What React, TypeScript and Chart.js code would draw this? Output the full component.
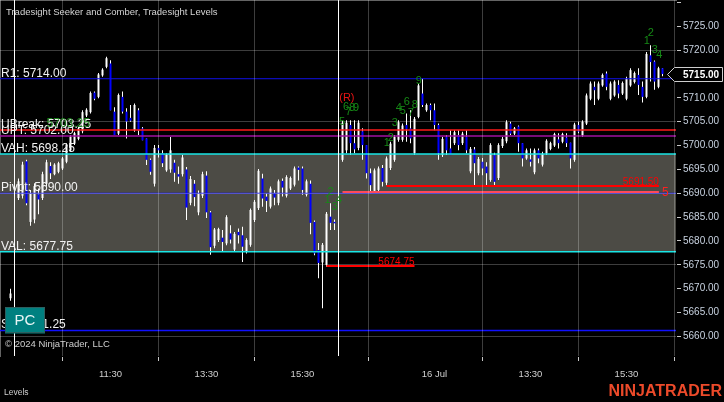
import { useEffect, useRef } from 'react';
import { Chart, registerables } from 'chart.js';

Chart.register(...registerables);

const FONT = '"Liberation Sans", Arial, sans-serif';

// ---- price bars: [open, high, low, close] ----
const prevBars: number[][] = [[5668, 5670, 5667.5, 5669]];

const day1Bars: number[][] = [
  [5689, 5693.1, 5688.6, 5692.5], [5689.5, 5696.6, 5688.9, 5696], [5696.7, 5697, 5687.5, 5687.9],
  [5684, 5690.7, 5683.2, 5690], [5684.5, 5692.1, 5683.7, 5691.5], [5689.8, 5691, 5685.6, 5688.7],
  [5689, 5694.5, 5688.6, 5694], [5692, 5697, 5691.4, 5696.5], [5695.7, 5696.5, 5693, 5694.2],
  [5694, 5696.3, 5693.8, 5696], [5694.5, 5696.6, 5694.2, 5696.3], [5695.2, 5697.6, 5694.9, 5697.3],
  [5696.6, 5700.5, 5696.3, 5700.2], [5699, 5702.2, 5698.7, 5701.9], [5700.4, 5702.9, 5700.1, 5702.6],
  [5701.4, 5703.9, 5701.1, 5703.6], [5703, 5707.4, 5702.6, 5707], [5706.3, 5707.8, 5706, 5707.5],
  [5707, 5711.3, 5706.7, 5711], [5711.1, 5711.3, 5709.5, 5709.8], [5710.2, 5715.2, 5709.9, 5714.9],
  [5714.7, 5716.2, 5714.4, 5715.9], [5716.5, 5718.6, 5716.2, 5718.3], [5717.2, 5717.9, 5707.4, 5707.4],
  [5707.1, 5708, 5702.2, 5702.2], [5702.5, 5710.9, 5702.2, 5710.6], [5710.2, 5711.3, 5706.7, 5707.1],
  [5707.1, 5707.8, 5701.5, 5705], [5705.8, 5708.5, 5705, 5705.2], [5703.2, 5708.8, 5702.9, 5708.5],
  [5707.4, 5707.8, 5702.2, 5703.2], [5703.6, 5703.9, 5701.1, 5701.1], [5701.5, 5701.5, 5695.9, 5697],
  [5697, 5697.3, 5693.9, 5694.5], [5692, 5700.1, 5691.4, 5699.5], [5699.5, 5700.1, 5697.5, 5699],
  [5698.4, 5699, 5695.5, 5696.3], [5694.8, 5698.4, 5694.5, 5698.1], [5695, 5701.8, 5694.3, 5699],
  [5696.4, 5697, 5692.4, 5694.3], [5694, 5695.6, 5692, 5693.5], [5694, 5698, 5693.5, 5697.5],
  [5695, 5695.5, 5684.4, 5687], [5688, 5693.6, 5687.5, 5693], [5692, 5692.8, 5687.3, 5689.2],
  [5686, 5690.6, 5685.4, 5690], [5689.5, 5694.5, 5689, 5694], [5693.7, 5694.6, 5684.8, 5686],
  [5686, 5686.3, 5677.1, 5678.7], [5679, 5682.7, 5678.5, 5682.4], [5680.2, 5682.8, 5679.8, 5682.5],
  [5680.7, 5682.3, 5677.7, 5679.8], [5679.5, 5685.4, 5679.1, 5685], [5681.6, 5683.3, 5679.5, 5680.3],
  [5678.2, 5681.9, 5677.7, 5681.5], [5681.9, 5682.6, 5679.5, 5681.2], [5681.2, 5683, 5675.6, 5678.8],
  [5677.8, 5680.6, 5677.4, 5680.2], [5679.2, 5686.8, 5678.8, 5686.5], [5684.4, 5688.6, 5684, 5688.2],
  [5686.9, 5695.1, 5686.5, 5694.7], [5693.1, 5694.1, 5687.2, 5688.9], [5689.3, 5690, 5686.1, 5688.4],
  [5687.2, 5691.4, 5686.8, 5691], [5690, 5690.7, 5687.5, 5689.1], [5688, 5692.9, 5687.5, 5692.5],
  [5692.6, 5693.1, 5689.3, 5691.2], [5689.5, 5693.8, 5689.1, 5693.4], [5691, 5693.5, 5690.7, 5693.2],
  [5691.8, 5695.6, 5691.4, 5695.2], [5695.4, 5695.6, 5692.7, 5694.9], [5695.2, 5695.6, 5689.7, 5690.7],
  [5689.7, 5692.9, 5689.3, 5692.5], [5692, 5692.7, 5681.4, 5683.8], [5684, 5684.3, 5677, 5677.4],
  [5678.1, 5679.6, 5672.2, 5675.4], [5675.5, 5679.6, 5665.9, 5679.2], [5675, 5686.1, 5674.6, 5685.7],
  [5685.1, 5687.9, 5682.3, 5683.8], [5684, 5684.5, 5682.3, 5683.7],
];

const day2Bars: number[][] = [
  [5697, 5705.3, 5696.6, 5704.8], [5699, 5705.3, 5698.4, 5704.8], [5704.3, 5705.3, 5698, 5700.5],
  [5700.5, 5705.3, 5698.4, 5699.2], [5699.5, 5705.3, 5699, 5704.8], [5703, 5703.6, 5697, 5700.1],
  [5700.1, 5700.1, 5693.1, 5694.2], [5694.2, 5695.2, 5690, 5691.7], [5690.5, 5695.2, 5690.1, 5694.8],
  [5690.7, 5695.6, 5690.3, 5695.2], [5695.3, 5695.9, 5691.4, 5692.4], [5692.2, 5697.7, 5691.7, 5697.3],
  [5695.3, 5700.8, 5694.9, 5700.4], [5697, 5702.2, 5696.6, 5701.8], [5701.2, 5705.3, 5700.8, 5704.9],
  [5701.2, 5704.6, 5700.8, 5704.2], [5704.3, 5706.7, 5700.8, 5703.4], [5703.6, 5707.4, 5700.5, 5701.5],
  [5698.4, 5706, 5698, 5705.6], [5706, 5713, 5705.7, 5712.6], [5710.9, 5714, 5708.1, 5708.5],
  [5707.4, 5708.8, 5707.1, 5708.5], [5708.5, 5708.8, 5705.3, 5707.4], [5707.4, 5708.8, 5703.2, 5704.3],
  [5704.3, 5704.6, 5697, 5698.4], [5698, 5701.8, 5697.6, 5701.4], [5701.8, 5702.2, 5698, 5699],
  [5699.4, 5703.2, 5698, 5698], [5700.5, 5703.2, 5700.1, 5702.8], [5702.2, 5703.2, 5699, 5700.1],
  [5700.5, 5702.9, 5700.1, 5702.5], [5701.8, 5703.2, 5698.4, 5699], [5694.6, 5699.7, 5694.2, 5699.3],
  [5699.2, 5699.7, 5691.5, 5696.3], [5694.2, 5697.6, 5693.8, 5697.2], [5696.6, 5697.4, 5693.8, 5695.2],
  [5695.6, 5696.5, 5691.7, 5694.2], [5692.8, 5700.5, 5692.4, 5700.1], [5698, 5698.5, 5691.7, 5692.4],
  [5693.2, 5700.5, 5692.8, 5700.1], [5699.9, 5701.8, 5699.5, 5701.4], [5700.9, 5705.3, 5700.5, 5704.9],
  [5704.6, 5705, 5702.2, 5702.5], [5702.5, 5703.9, 5702.2, 5703.6], [5704, 5704.2, 5698.7, 5700.5],
  [5700.5, 5700.5, 5695.6, 5697.3], [5697.3, 5699.4, 5697, 5699], [5697.1, 5699.4, 5695.6, 5696.6],
  [5694.4, 5699.4, 5694, 5699], [5699, 5699.4, 5696.3, 5697.3], [5696, 5698.7, 5695.6, 5698.3],
  [5698.3, 5701.3, 5698, 5701], [5699.3, 5700.8, 5699, 5700.5], [5700, 5702.7, 5699.7, 5702.4],
  [5701.3, 5702.6, 5699.4, 5700.5], [5700.8, 5702.7, 5700.5, 5702.4], [5701.7, 5702.6, 5699.7, 5700.5],
  [5700.6, 5700.6, 5695.2, 5697.3], [5697, 5704.8, 5696.6, 5704.4], [5704.3, 5705, 5702.6, 5702.9],
  [5702.1, 5705.3, 5701.8, 5705], [5704.6, 5710.9, 5704.3, 5710.5], [5709.8, 5713.4, 5709.5, 5713],
  [5712.3, 5713.4, 5708.5, 5711.6], [5709.8, 5713.4, 5709.5, 5713], [5712.6, 5715.1, 5712.3, 5714.8],
  [5715.1, 5715.5, 5711.6, 5712.3], [5709.8, 5713.4, 5709.5, 5713], [5710.5, 5713.7, 5710.2, 5713.4],
  [5712.7, 5713.7, 5709.9, 5710.9], [5710.9, 5713.4, 5710.6, 5713.1], [5709.8, 5714.4, 5709.5, 5714],
  [5712.6, 5716.2, 5712.3, 5715.8], [5713.3, 5715.5, 5713, 5715.2], [5714.8, 5716.2, 5710.6, 5712.7],
  [5712.3, 5713.4, 5709, 5710.2], [5710.2, 5719.6, 5709.9, 5719.2], [5718.9, 5721, 5713.4, 5717.5],
  [5717.6, 5717.8, 5711.7, 5713.4], [5712.3, 5716.5, 5712, 5716.2], [5716.2, 5716.2, 5714.5, 5715],
];

// bar slots (equidistant bars); session breaks take one slot
const sessionStartSlots = [0, 2, 83];
const sessionBreakSlots = [1, 82];

// ---- axes ----
const xMin = -2.625;
const xMax = 166.375;
const yMin = 5655.9;
const yMax = 5730.5;
const timeTickSlots = [25, 49, 73, 106, 130, 154];
const timeTickLabels = ['11:30', '13:30', '15:30', '16 Jul', '13:30', '15:30'];
const priceTicks = [5660, 5665, 5670, 5675, 5680, 5685, 5690, 5695, 5700, 5705, 5710, 5715, 5720, 5725, 5730];
const priceGridLines = [5660, 5675, 5690, 5705, 5720];

// ---- Tradesight levels ----
const levelLabels = ['R1: 5714.00', 'UBreak: 5703.25', 'UPT: 5702.00', 'VAH: 5698.25', 'Pivot: 5690.00', 'VAL: 5677.75', 'S1: 5661.25'];
const levelValues = [5714.0, 5703.25, 5702.0, 5698.25, 5690.0, 5677.75, 5661.25];
const levelColors = ['#1010e8', '#ff1a1a', '#a010a0', '#19e6e6', '#1010e8', '#19e6e6', '#1010ff'];
const levelWidths = [1, 1.5, 1.5, 1.5, 1, 1.5, 1.5];
const valueAreaHigh = 5698.25;
const valueAreaLow = 5677.75;

// ---- Seeker / Comber targets ----
const targetValues = [5674.75, 5691.5, 5690.25];
const targetStartSlots = [79, 94, 83];
const targetEndSlots = [101, 162.1, 162.1];
const targetLabels = ['5674.75', '5691.50', ''];
const targetColors = ['#ff0000', '#ff0000', '#ff4a5a'];

// ---- count markers ----
const countSlots = [79.25, 80, 81.05, 82.05, 82.9, 83.9, 84.5, 85.4, 86.4, 94.05, 95.1, 96.1, 97.1, 98.1, 99.05, 100.1, 101.1, 102.1, 159.05, 160.1, 161.1, 162.2];
const countPrices = [5688.5, 5690.3, 5687.05, 5688.5, 5705, 5708.1, 5707.1, 5707.9, 5707.9, 5700.6, 5701.5, 5704.65, 5707.8, 5707.2, 5709.05, 5706.75, 5708.6, 5713.6, 5721.95, 5723.5, 5720, 5718.9];
const countTexts = ['1', '2', '3', '4', '5', '6', '7', '8', '9', '1', '2', '3', '4', '5', '6', '7', '8', '9', '1', '2', '3', '4'];
const signalSlot = 84.1;
const signalPrice = 5710.05;

export default function App() {
  const ref = useRef<HTMLCanvasElement | null>(null);

  useEffect(() => {
    document.body.style.margin = '0';
    document.body.style.background = '#000';
    const canvas = ref.current;
    if (!canvas) return;

    const sessions = [prevBars, day1Bars, day2Bars];
    const candles = sessions.flatMap((bars, si) =>
      bars.map((b, i) => ({ slot: sessionStartSlots[si] + i, o: b[0], h: b[1], l: b[2], c: b[3] }))
    );
    const lastClose = day2Bars[day2Bars.length - 1][3];

    const datasets: any[] = [];
    // value area fill
    datasets.push({
      type: 'line',
      data: [{ x: xMin, y: valueAreaHigh }, { x: xMax, y: valueAreaHigh }],
      borderColor: 'rgba(0,0,0,0)',
      borderWidth: 0,
      backgroundColor: '#4c4b45',
      fill: { value: valueAreaLow },
      pointRadius: 0,
      order: 20,
    });
    // candles
    datasets.push({
      type: 'bar',
      data: candles.map((c) => ({ x: c.slot, y: [c.l, c.h] })),
      backgroundColor: '#ffffff',
      barThickness: 1,
      grouped: false,
      inflateAmount: 0,
      minBarLength: 1,
      order: 6,
    });
    datasets.push({
      type: 'bar',
      data: candles.map((c) => ({ x: c.slot, y: [c.o, c.c] })),
      backgroundColor: candles.map((c) => (c.c >= c.o ? '#ffffff' : '#0000ff')),
      barThickness: 2,
      grouped: false,
      inflateAmount: 0,
      minBarLength: 1,
      order: 5,
    });
    // levels
    levelValues.forEach((v, i) => {
      datasets.push({
        type: 'line',
        data: [{ x: xMin, y: v }, { x: xMax, y: v }],
        borderColor: levelColors[i],
        borderWidth: levelWidths[i],
        pointRadius: 0,
        fill: false,
        order: 3,
      });
    });
    // targets
    targetValues.forEach((v, i) => {
      datasets.push({
        type: 'line',
        data: [{ x: targetStartSlots[i], y: v }, { x: targetEndSlots[i], y: v }],
        borderColor: targetColors[i],
        borderWidth: 2,
        pointRadius: 0,
        fill: false,
        order: 2,
      });
    });
    // session breaks
    sessionBreakSlots.forEach((s) => {
      datasets.push({
        type: 'line',
        data: [{ x: s, y: yMin }, { x: s, y: yMax }],
        borderColor: '#ffffff',
        borderWidth: 1,
        pointRadius: 0,
        fill: false,
        order: 1,
      });
    });

    const overlay = {
      id: 'overlay',
      beforeDraw(chart: any) {
        const ctx = chart.ctx;
        ctx.save();
        ctx.fillStyle = '#000';
        ctx.fillRect(0, 0, chart.width, chart.height);
        ctx.restore();
      },
      afterDraw(chart: any) {
        const ctx = chart.ctx as CanvasRenderingContext2D;
        const xs = chart.scales.x;
        const ys = chart.scales.y;
        ctx.save();
        ctx.textBaseline = 'alphabetic';

        // title
        ctx.fillStyle = '#d4d4d4';
        ctx.font = `9.5px ${FONT}`;
        ctx.textAlign = 'left';
        ctx.fillText('Tradesight Seeker and Comber, Tradesight Levels', 6, 15);

        // level labels
        ctx.font = `12px ${FONT}`;
        levelLabels.forEach((t, i) => {
          const py = ys.getPixelForValue(levelValues[i]);
          ctx.fillStyle = '#f2f2f2';
          ctx.fillText(t, 1, py - 2);
        });
        ctx.fillStyle = 'rgba(30,150,30,0.85)';
        ctx.fillText('5703.25', 46.5, ys.getPixelForValue(levelValues[1]) - 3);

        // target labels
        ctx.font = `10px ${FONT}`;
        ctx.textAlign = 'right';
        targetLabels.forEach((t, i) => {
          if (!t) return;
          ctx.fillStyle = '#ff0000';
          ctx.fillText(t, xs.getPixelForValue(targetEndSlots[i]), ys.getPixelForValue(targetValues[i]) - 1.5);
        });
        ctx.textAlign = 'left';
        ctx.textBaseline = 'middle';
        ctx.font = `12px ${FONT}`;
        ctx.fillStyle = '#ff2020';
        ctx.fillText('5', xs.getPixelForValue(targetEndSlots[2]) + 3, ys.getPixelForValue(targetValues[2]) + 1);

        // counts
        ctx.textAlign = 'center';
        ctx.font = `11px ${FONT}`;
        ctx.fillStyle = '#168a16';
        countTexts.forEach((t, i) => {
          ctx.fillText(t, xs.getPixelForValue(countSlots[i]), ys.getPixelForValue(countPrices[i]));
        });
        ctx.fillStyle = '#e81414';
        ctx.fillText('(R)', xs.getPixelForValue(signalSlot), ys.getPixelForValue(signalPrice));

        // copyright
        ctx.textAlign = 'left';
        ctx.textBaseline = 'alphabetic';
        ctx.font = `9.5px ${FONT}`;
        ctx.fillStyle = '#cfcfcf';
        ctx.fillText('\u00A9 2024 NinjaTrader, LLC', 5, 347);

        // PC box
        ctx.fillStyle = '#008080';
        ctx.fillRect(5, 307.5, 40, 26);
        ctx.strokeStyle = '#2d5f5f';
        ctx.lineWidth = 1;
        ctx.strokeRect(5.5, 307.5, 39, 25);
        ctx.fillStyle = '#eaf6f6';
        ctx.font = `15px ${FONT}`;
        ctx.textAlign = 'center';
        ctx.textBaseline = 'middle';
        ctx.fillText('PC', 25, 321);

        // price marker
        const py = Math.round(ys.getPixelForValue(lastClose)) + 0.5;
        ctx.beginPath();
        ctx.moveTo(667.5, py);
        ctx.lineTo(674.5, py - 7);
        ctx.lineTo(722.5, py - 7);
        ctx.lineTo(722.5, py + 7);
        ctx.lineTo(674.5, py + 7);
        ctx.closePath();
        ctx.fillStyle = '#000';
        ctx.fill();
        ctx.strokeStyle = '#cfcfcf';
        ctx.stroke();
        ctx.fillStyle = '#ffffff';
        ctx.font = `bold 10px ${FONT}`;
        ctx.textAlign = 'left';
        ctx.fillText(lastClose.toFixed(2), 683, py + 0.5);

        // footer
        ctx.textBaseline = 'middle';
        ctx.font = `8.5px ${FONT}`;
        ctx.fillStyle = '#cfcfcf';
        ctx.fillText('Levels', 4, 393);
        ctx.font = `bold 16px ${FONT}`;
        ctx.fillStyle = 'rgb(236,74,42)';
        ctx.textAlign = 'right';
        ctx.fillText('NINJATRADER', 722, 392);
        ctx.restore();
      },
    };

    const chart = new Chart(canvas, {
      type: 'bar',
      data: { datasets },
      options: {
        animation: false,
        responsive: false,
        devicePixelRatio: 1,
        maintainAspectRatio: false,
        layout: { padding: 0 },
        plugins: { legend: { display: false }, tooltip: { enabled: false } },
        scales: {
          x: {
            type: 'linear',
            min: xMin,
            max: xMax,
            offset: false,
            afterBuildTicks: (s: any) => {
              s.ticks = timeTickSlots.map((v) => ({ value: v }));
            },
            afterFit: (s: any) => {
              s.height = 46;
              s.paddingLeft = 0;
              s.paddingRight = 0;
            },
            ticks: {
              autoSkip: false,
              maxRotation: 0,
              color: '#d0d0d0',
              font: { size: 9.5, family: FONT },
              padding: 8,
              callback: (_v: any, i: number) => timeTickLabels[i],
            },
            grid: { color: 'rgba(255,255,255,0.24)', tickColor: '#c8c8c8', tickLength: 5, z: 1 },
            border: { color: '#c8c8c8', width: 1 },
          },
          y: {
            type: 'linear',
            position: 'right',
            min: yMin,
            max: yMax,
            afterBuildTicks: (s: any) => {
              s.ticks = priceTicks.map((v) => ({ value: v }));
            },
            afterFit: (s: any) => {
              s.width = 48;
              s.paddingTop = 0;
              s.paddingBottom = 0;
            },
            ticks: {
              color: '#c8d2e0',
              font: { size: 10, family: FONT },
              padding: 2,
              callback: (v: any) => (Number(v) >= 5730 ? '' : Number(v).toFixed(2)),
            },
            grid: {
              color: (c: any) => (c.tick && priceGridLines.includes(c.tick.value) ? 'rgba(255,255,255,0.24)' : 'rgba(0,0,0,0)'),
              tickColor: '#c8c8c8',
              tickLength: 5,
              z: 1,
            },
            border: { color: '#c8c8c8', width: 1 },
          },
        },
      } as any,
      plugins: [overlay],
    });

    return () => chart.destroy();
  }, []);

  return (
    <div style={{ width: 724, height: 402, background: '#000' }}>
      <canvas ref={ref} width={724} height={402} style={{ display: 'block' }} />
    </div>
  );
}
